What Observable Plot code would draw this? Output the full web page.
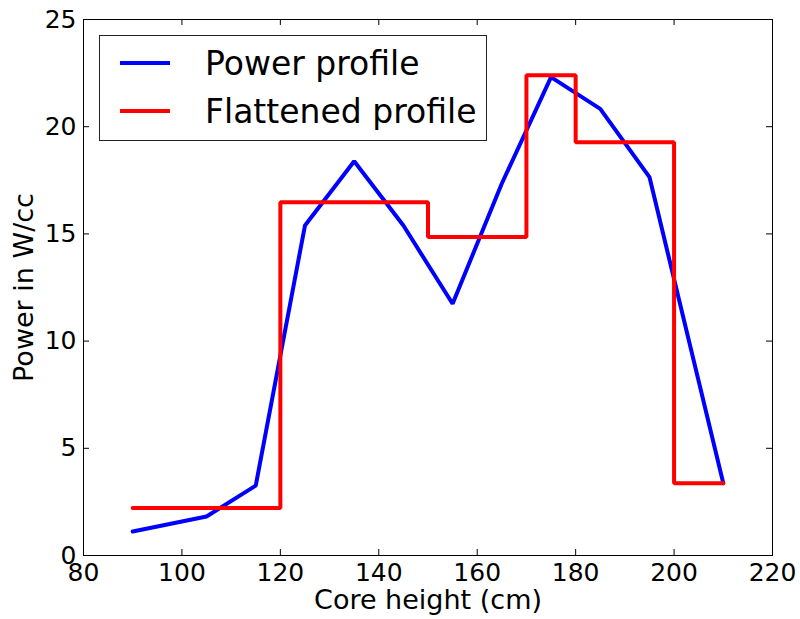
<!DOCTYPE html>
<html>
<head>
<meta charset="utf-8">
<script src="https://cdn.jsdelivr.net/npm/d3@7"></script>
<script src="https://cdn.jsdelivr.net/npm/@observablehq/plot@0.6"></script>
<style>
  html, body { margin: 0; padding: 0; background: white; }
  #wrap { position: relative; width: 800px; height: 619px; font-family: "DejaVu Sans", sans-serif; }
  #legend { position: absolute; left: 99px; top: 35px; width: 386px; height: 104px; border: 1px solid #222; background: white; }
  .row { position: absolute; left: 0; height: 40px; display: flex; align-items: center; font-size: 33px; color: black; white-space: nowrap; }
  .sw { display: inline-block; width: 50px; height: 4px; margin-left: 20px; margin-right: 35px; }
</style>
</head>
<body>
<div id="wrap"></div>
<script>
// Data
const heights = [90, 105, 115, 125, 135, 145, 155, 165, 175, 185, 195, 210];
const power = [1.12, 1.82, 3.26, 15.39, 18.39, 15.39, 11.74, 17.35, 22.31, 20.83, 17.65, 3.37];
const flatStarts = [90, 120, 150, 170, 180, 200, 210];
const flatPower = [2.21, 16.48, 14.85, 22.4, 19.28, 3.37, 3.37];
const xTicks = [80, 100, 120, 140, 160, 180, 200, 220];
const yTicks = [0, 5, 10, 15, 20, 25];
const seriesNames = ["Power profile", "Flattened profile"];
const seriesColors = ["#0000ff", "#ff0000"];
const xLabel = "Core height (cm)";
const yLabel = "Power in W/cc";

const powerData = heights.map((h, i) => ({h, p: power[i]}));
const flatData = flatStarts.map((h, i) => ({h, p: flatPower[i]}));

const W = 800, H = 619, mL = 83, mR = 28, mT = 19, mB = 64;
const frameW = W - mL - mR, frameH = H - mT - mB, tk = 6;

const chart = Plot.plot({
  width: W, height: H,
  marginLeft: mL, marginRight: mR, marginTop: mT, marginBottom: mB,
  style: {fontFamily: "DejaVu Sans", fontSize: "25px", color: "black", background: "white", overflow: "visible"},
  x: {domain: [80, 220]},
  y: {domain: [0, 25]},
  marks: [
    Plot.line(powerData, {x: "h", y: "p", stroke: seriesColors[0], strokeWidth: 4, strokeLinejoin: "miter"}),
    Plot.line(flatData, {x: "h", y: "p", stroke: seriesColors[1], strokeWidth: 4, curve: "step-after", strokeLinejoin: "miter"}),
    Plot.frame({stroke: "black", strokeWidth: 1}),
    // inward ticks on all sides
    Plot.tickX(xTicks, {x: d => d, insetTop: frameH - tk, stroke: "black"}),
    Plot.tickX(xTicks, {x: d => d, insetBottom: frameH - tk, stroke: "black"}),
    Plot.tickY(yTicks, {y: d => d, insetRight: frameW - tk, stroke: "black"}),
    Plot.tickY(yTicks, {y: d => d, insetLeft: frameW - tk, stroke: "black"}),
    Plot.axisX({ticks: xTicks, tickSize: 0, tickPadding: 8, tickFormat: d => String(d), label: null, fontSize: 25}),
    Plot.axisY({ticks: yTicks, tickSize: 0, tickPadding: 7, tickFormat: d => String(d), label: null, fontSize: 25}),
    Plot.text([xLabel], {text: d => d, frameAnchor: "bottom", dy: 45, lineAnchor: "middle", textAnchor: "middle", fontSize: 27, fill: "black"}),
    Plot.text([yLabel], {text: d => d, frameAnchor: "left", dx: -59, rotate: -90, lineAnchor: "middle", textAnchor: "middle", fontSize: 27, fill: "black"})
  ]
});

const wrap = document.getElementById("wrap");
wrap.appendChild(chart);

const legend = document.createElement("div");
legend.id = "legend";
seriesNames.forEach((name, i) => {
  const row = document.createElement("div");
  row.className = "row";
  row.style.top = (i === 0 ? 7 : 55) + "px";
  const sw = document.createElement("span");
  sw.className = "sw";
  sw.style.background = seriesColors[i];
  row.appendChild(sw);
  const t = document.createElement("span");
  t.textContent = name;
  row.appendChild(t);
  legend.appendChild(row);
});
wrap.appendChild(legend);
</script>
</body>
</html>
